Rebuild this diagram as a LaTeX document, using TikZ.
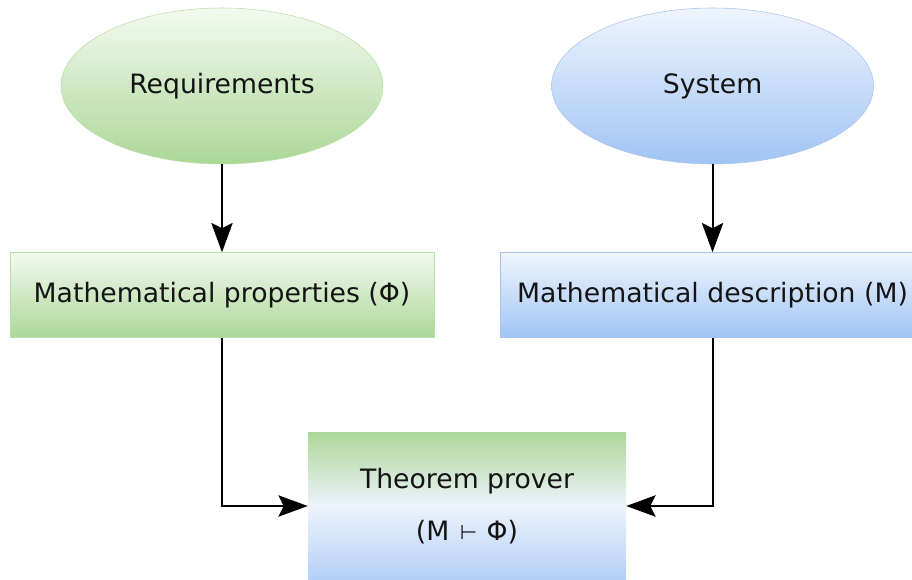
\documentclass[tikz,border=0pt]{standalone}
\usepackage{fontspec}
\setmainfont{DejaVu Sans}
\usetikzlibrary{positioning,shapes.geometric,arrows.meta}
\definecolor{grnhi}{RGB}{243,250,240}
\definecolor{grnlo}{RGB}{172,215,152}
\definecolor{grnline}{RGB}{185,224,165}
\definecolor{bluhi}{RGB}{240,245,253}
\definecolor{blulo}{RGB}{160,196,244}
\definecolor{bluline}{RGB}{169,196,235}
\definecolor{thmmid}{RGB}{238,243,252}
\newcommand{\provesym}{\raisebox{0.5pt}{\fontsize{15}{16}\selectfont ⊢}}
\tikzset{
  txt/.style={font=\fontsize{20}{24}\selectfont, text=black!92},
  oval/.style={txt, ellipse, minimum width=241.5pt, minimum height=117pt, inner sep=0pt},
  box/.style={txt, rectangle, minimum width=318pt, minimum height=63.75pt, inner sep=0pt},
  grn/.style={draw=grnline, top color=grnhi, bottom color=grnlo},
  blu/.style={draw=bluline, top color=bluhi, bottom color=blulo},
  arr/.style={line width=1.5pt, -{Stealth[length=22pt, width=16pt, inset=4pt]}}
}
\begin{document}
\begin{tikzpicture}[x=0.75pt,y=0.75pt]
\useasboundingbox (0,0) rectangle (912,579);
    \node[oval, grn] (req) at (222,493) {Requirements};
    \node[oval, blu, right=126pt of req] (sys) {System};
    \node[box, grn, below=66pt of req] (props) {Mathematical properties (Φ)};
    \node[box, blu, below=66pt of sys] (desc) {Mathematical description (M)};
    \node[txt, rectangle, align=center, minimum width=238.5pt, minimum height=111pt,
          top color=grnlo, bottom color=blulo!80, middle color=thmmid] (thm) at (467,73)
          {Theorem prover\\[15pt](M\hspace{8pt}\provesym\hspace{7pt}Φ)};
    \draw[arr] (req) -- (props);
    \draw[arr] (sys) -- (desc);
    \draw[arr] (props.south) |- (thm.west);
    \draw[arr] (desc.south) |- (thm.east);
\end{tikzpicture}
\end{document}
